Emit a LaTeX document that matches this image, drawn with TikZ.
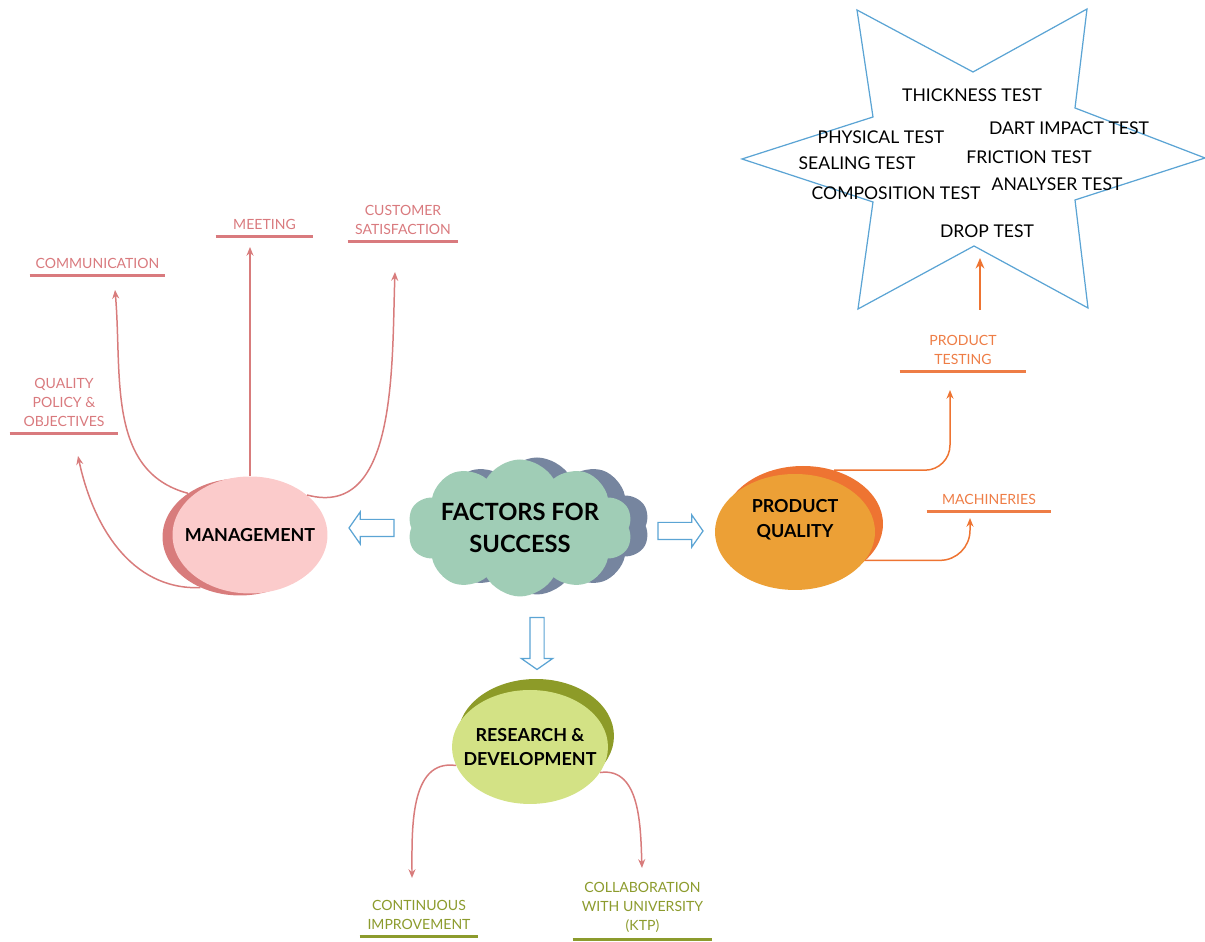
\documentclass[tikz,border=0pt]{standalone}
\usepackage{fontspec}
\setmainfont{Lato}
\usetikzlibrary{arrows.meta,shapes.geometric,shapes.symbols,shapes.arrows}

\definecolor{mgmtfill}{HTML}{FBCBCB}
\definecolor{mgmtdark}{HTML}{D87C7C}
\definecolor{mgmttext}{HTML}{D97A7E}
\definecolor{cloudfill}{HTML}{A0CDB6}
\definecolor{clouddark}{HTML}{76859F}
\definecolor{pqfill}{HTML}{ECA036}
\definecolor{pqdark}{HTML}{EE7432}
\definecolor{pqtext}{HTML}{EE7D46}
\definecolor{rdfill}{HTML}{D3E285}
\definecolor{rddark}{HTML}{8D9B28}
\definecolor{rdtext}{HTML}{8C9B2D}
\definecolor{arrowblue}{HTML}{5BA4D4}

\tikzset{
  bigoval/.style={ellipse, inner sep=0pt, minimum width=3.1cm, minimum height=2.34cm},
  topic/.style={font=\fontsize{10.2}{14}\selectfont\bfseries, align=center, text=black},
  lbl/.style={anchor=south, inner xsep=0pt, inner ysep=4pt, align=center,
    font=\fontsize{8}{10.8}\selectfont},
  testname/.style={font=\fontsize{10}{12}\selectfont, text=black},
  pinkarrow/.style={draw=mgmtdark, line width=0.85pt, -{Stealth[length=5pt,width=4pt]}},
  orangearrow/.style={draw=pqdark, line width=0.85pt, -{Stealth[length=5pt,width=4pt]}},
  blockarrow/.style={single arrow, draw=arrowblue, fill=white, line width=0.7pt,
    single arrow head extend=0.15cm, single arrow tip angle=110, inner sep=0.16cm,
    minimum height=0.9cm}
}

\begin{document}
\begin{tikzpicture}[x=0.02cm, y=0.02cm]
	\useasboundingbox (0,0) rectangle (1205,942);

	% centre cloud
	\node[cloud, cloud puffs=10, cloud puff arc=120, fill=clouddark, minimum width=4.5cm, minimum height=2.74cm] (fs-sh) at (537,416) {};
	\node[cloud, cloud puffs=10, cloud puff arc=120, fill=cloudfill, minimum width=4.5cm, minimum height=2.74cm,
		label={[font=\fontsize{13.5}{18}\selectfont\bfseries, align=center]center:FACTORS FOR\\SUCCESS}] (fs) at (520,414) {};

	\node[blockarrow, shape border rotate=180] (to-mgmt) at (374.5,414) {};
	\node[blockarrow] (to-pq) at (677.5,411) {};
	\node[blockarrow, shape border rotate=270, minimum height=1.04cm, inner sep=0.13cm, single arrow head extend=0.17cm] (to-rd) at (537,301) {};

	% management
	\node[bigoval, fill=mgmtdark] (mgmt-sh) at (240,405) {};
	\node[bigoval, fill=mgmtfill, label={[topic]center:MANAGEMENT}] (mgmt) at (250,407) {};

	\node[lbl, text=mgmttext, minimum width=2.16cm] (qp) at (64,508) {QUALITY\\POLICY \&\\OBJECTIVES};
	\node[lbl, text=mgmttext, minimum width=2.7cm] (comm) at (97.5,666) {COMMUNICATION};
	\node[lbl, text=mgmttext, minimum width=1.94cm] (meet) at (264.5,705) {MEETING};
	\node[lbl, text=mgmttext, minimum width=2.2cm] (cust) at (403,700) {CUSTOMER\\SATISFACTION};
	\foreach \n in {qp,comm,meet,cust}
		\draw[mgmttext, line width=1.7pt] (\n.south west) -- (\n.south east);

	\coordinate (qp-in) at (78,486);
	\coordinate (comm-in) at (115,652);
	\coordinate (meet-in) at (250,695);
	\coordinate (cust-in) at (395,670);

	\draw[pinkarrow] (mgmt-sh.232) to[out=182,in=-78] (qp-in);
	\draw[pinkarrow] (mgmt-sh.140) to[out=165,in=-85] (comm-in);
	\draw[pinkarrow] (mgmt.north) -- (meet-in);
	\draw[pinkarrow] (mgmt.35) to[out=-15,in=-92] (cust-in);

	% product quality
	\node[bigoval, fill=pqdark, minimum width=3.2cm, minimum height=2.32cm] (pq-sh) at (803,418) {};
	\node[bigoval, fill=pqfill, minimum width=3.2cm, minimum height=2.32cm,
		label={[topic, yshift=7pt]center:PRODUCT\\QUALITY}] (pq) at (795,410) {};

	\node[lbl, text=pqtext, minimum width=2.52cm] (testing) at (963,570) {PRODUCT\\TESTING};
	\node[lbl, text=pqtext, minimum width=2.48cm] (mach) at (989,430) {MACHINERIES};
	\foreach \n in {testing,mach}
		\draw[pqtext, line width=1.7pt] (\n.south west) -- (\n.south east);

	\coordinate (testing-in) at (950,552);
	\coordinate (mach-in) at (970,424);
	\draw[orangearrow, rounded corners=0.5cm] (pq-sh.60) -| (testing-in);
	\draw[orangearrow, rounded corners=0.6cm] (pq.-22) -| (mach-in);

	% star of tests
	\draw[arrowblue, line width=0.7pt] (857,932) -- (973,870) -- (1087,933) -- (1075,834) -- (1205,784)
		-- (1075,742) -- (1088,634) -- (974,696) -- (858,633) -- (873,740) -- (742,783) -- (873,825) -- cycle;

	\node[testname] (t-thick) at (972,847) {THICKNESS TEST};
	\node[testname] (t-phys) at (881,805) {PHYSICAL TEST};
	\node[testname] (t-dart) at (1069,814) {DART IMPACT TEST};
	\node[testname] (t-seal) at (857,779) {SEALING TEST};
	\node[testname] (t-fric) at (1029,785) {FRICTION TEST};
	\node[testname] (t-comp) at (896,749) {COMPOSITION TEST};
	\node[testname] (t-anal) at (1057,758) {ANALYSER TEST};
	\node[testname] (t-drop) at (987,711) {DROP TEST};

	\coordinate (star-foot) at (980,632);
	\coordinate (star-in) at (980,684);
	\draw[pqdark, line width=1.5pt, -{Stealth[length=6pt,width=5pt]}] (star-foot) -- (star-in);

	% research and development
	\node[bigoval, fill=rddark, minimum width=3.12cm, minimum height=2.28cm] (rd-sh) at (536,206) {};
	\node[bigoval, fill=rdfill, minimum width=3.12cm, minimum height=2.28cm,
		label={[topic]center:RESEARCH \&\\DEVELOPMENT}] (rd) at (530,195) {};

	\node[lbl, text=rdtext, minimum width=2.36cm] (cont) at (419,5) {CONTINUOUS\\IMPROVEMENT};
	\node[lbl, text=rdtext, minimum width=2.78cm] (collab) at (642.5,2) {COLLABORATION\\WITH UNIVERSITY\\(KTP)};
	\foreach \n in {cont,collab}
		\draw[rdtext, line width=1.7pt] (\n.south west) -- (\n.south east);

	\coordinate (cont-in) at (412,64);
	\coordinate (collab-in) at (642,74);
	\draw[pinkarrow] (rd.194) to[out=172,in=90] (cont-in);
	\draw[pinkarrow] (rd.-20) to[out=8,in=92] (collab-in);

\end{tikzpicture}
\end{document}
